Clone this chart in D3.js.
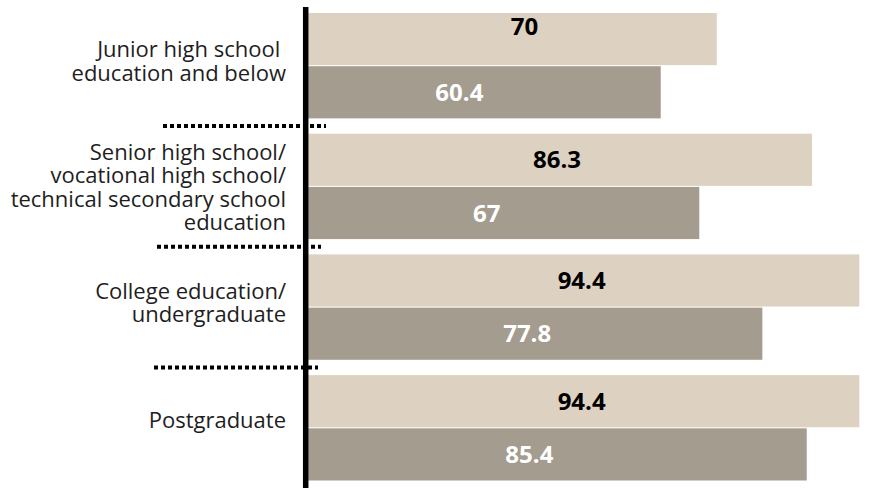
<!DOCTYPE html>
<html lang="en">
<head>
    <meta charset="UTF-8"/>
    <title>Education bars</title>
    <script src="https://d3js.org/d3.v7.min.js" charset="utf-8"></script>
    <style type="text/css">
        body { margin: 0; background: #fff; }
        text { font-family: "Open Sans", "Noto Sans", sans-serif; }
        .cat { font-size: 22px; fill: #1e1e1e; white-space: pre; }
        .val { font-size: 24px; font-weight: 700; }
    </style>
</head>
<body>
<div id="diagram"></div>
<script type="text/javascript">

    var categories = [
        ["Junior high school ", "education and below"],
        ["Senior high school/", "vocational high school/", "technical secondary school", "education"],
        ["College education/", "undergraduate"],
        ["Postgraduate"]
    ];
    var seriesA = [70, 86.3, 94.4, 94.4];
    var seriesB = [60.4, 67, 77.8, 85.4];

    // hand tweaks so labels sit where the original has them
    var labelShiftA = [[12, -13], [-3, 0], [-2, 0], [-2, 0]];
    var labelShiftB = [[-25, 0], [-17, 0], [-8, 0], [-28, 0]];

    var width = 876, height = 488;
    var svg = d3.select("#diagram")
        .append("svg")
        .attr("width", width)
        .attr("height", height);

    var keys = d3.range(categories.length);

    var x = d3.scaleLinear()
        .domain([0, 100])
        .range([308, 892]);

    var y = d3.scaleBand()
        .domain(keys)
        .range([13, 480.5])
        .paddingInner(0.127)
        .paddingOuter(0);

    var y1 = d3.scaleBand()
        .domain(["a", "b"])
        .range([0, y.bandwidth()])
        .paddingInner(0.02);

    var gap = y.step() - y.bandwidth();

    // bars
    var groups = svg.selectAll("g.grp")
        .data(keys)
        .enter()
        .append("g")
        .attr("class", "grp")
        .attr("transform", function(d) { return "translate(0," + y(d) + ")"; });

    groups.append("rect")
        .attr("x", x(0))
        .attr("y", y1("a"))
        .attr("width", function(d) { return x(seriesA[d]) - x(0); })
        .attr("height", y1.bandwidth())
        .attr("fill", "#ddd1c1");

    groups.append("rect")
        .attr("x", x(0))
        .attr("y", y1("b"))
        .attr("width", function(d) { return x(seriesB[d]) - x(0); })
        .attr("height", y1.bandwidth())
        .attr("fill", "#a49c8f");

    groups.append("text")
        .attr("class", "val")
        .attr("text-anchor", "middle")
        .attr("x", function(d) { return (x(0) + x(seriesA[d])) / 2 + labelShiftA[d][0]; })
        .attr("y", function(d) { return y1("a") + y1.bandwidth() / 2 + 8.5 + labelShiftA[d][1]; })
        .attr("fill", "#000")
        .text(function(d) { return seriesA[d]; });

    groups.append("text")
        .attr("class", "val")
        .attr("text-anchor", "middle")
        .attr("x", function(d) { return (x(0) + x(seriesB[d])) / 2 + labelShiftB[d][0]; })
        .attr("y", function(d) { return y1("b") + y1.bandwidth() / 2 + 8.5 + labelShiftB[d][1]; })
        .attr("fill", "#fff")
        .text(function(d) { return seriesB[d]; });

    // category labels
    var lh = 23.5;
    groups.each(function(d) {
        var lines = categories[d];
        var n = lines.length;
        var c = y.bandwidth() / 2;
        var t = d3.select(this).append("text")
            .attr("class", "cat")
            .attr("text-anchor", "end");
        lines.forEach(function(s, i) {
            t.append("tspan")
                .attr("x", 286)
                .attr("y", c + 0.5 + (i - (n - 1) / 2) * lh + (n - 1) * 2.75)
                .text(s);
        });
    });

    // dotted separators
    var sepX = [[163, 326], [157, 321], [154, 318]];
    svg.selectAll("line.sep")
        .data(keys.slice(1))
        .enter()
        .append("line")
        .attr("class", "sep")
        .attr("x1", function(d, i) { return sepX[i][0]; })
        .attr("x2", function(d, i) { return sepX[i][1]; })
        .attr("y1", function(d) { return y(d) - gap / 2; })
        .attr("y2", function(d) { return y(d) - gap / 2; })
        .attr("stroke", "#000")
        .attr("stroke-width", 4)
        .attr("stroke-dasharray", "4,3");

    // axis line
    svg.append("line")
        .attr("x1", 305.7)
        .attr("x2", 305.7)
        .attr("y1", 7)
        .attr("y2", height)
        .attr("stroke", "#000")
        .attr("stroke-width", 5.5);

</script>
</body>
</html>
